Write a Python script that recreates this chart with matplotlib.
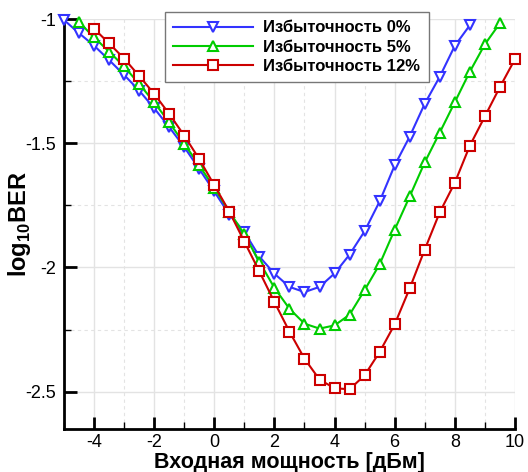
import matplotlib.pyplot as plt
from matplotlib.ticker import MultipleLocator

plt.rcParams['font.family'] = ['Liberation Sans', 'DejaVu Sans']
plt.rcParams['mathtext.fontset'] = 'custom'
plt.rcParams['mathtext.rm'] = 'Liberation Sans:bold'
plt.rcParams['mathtext.bf'] = 'Liberation Sans:bold'

# input power [dBm]
x_0 = [-5, -4.5, -4, -3.5, -3, -2.5, -2, -1.5, -1, -0.5, 0, 0.5, 1, 1.5, 2, 2.5,
       3, 3.5, 4, 4.5, 5, 5.5, 6, 6.5, 7, 7.5, 8, 8.5]
x_5 = [-4.5, -4, -3.5, -3, -2.5, -2, -1.5, -1, -0.5, 0, 0.5, 1, 1.5, 2, 2.5,
       3, 3.5, 4, 4.5, 5, 5.5, 6, 6.5, 7, 7.5, 8, 8.5, 9, 9.5]
x_12 = [-4, -3.5, -3, -2.5, -2, -1.5, -1, -0.5, 0, 0.5, 1, 1.5, 2, 2.5,
        3, 3.5, 4, 4.5, 5, 5.5, 6, 6.5, 7, 7.5, 8, 8.5, 9, 9.5, 10]

# log10 BER
ber_0 = [-1.004, -1.057, -1.107, -1.165, -1.225, -1.288, -1.359, -1.435, -1.515,
         -1.604, -1.694, -1.787, -1.857, -1.956, -2.025, -2.078, -2.099, -2.078,
         -2.024, -1.948, -1.854, -1.734, -1.589, -1.473, -1.341, -1.232, -1.108, -1.025]
ber_5 = [-1.012, -1.074, -1.131, -1.191, -1.261, -1.335, -1.416, -1.502, -1.589,
         -1.680, -1.775, -1.867, -1.977, -2.082, -2.166, -2.226, -2.246, -2.233,
         -2.190, -2.091, -1.987, -1.848, -1.714, -1.577, -1.457, -1.335, -1.212,
         -1.102, -1.017]
ber_12 = [-1.039, -1.098, -1.159, -1.229, -1.301, -1.382, -1.469, -1.564, -1.669,
          -1.775, -1.896, -2.016, -2.139, -2.258, -2.367, -2.451, -2.486, -2.490,
          -2.434, -2.340, -2.229, -2.084, -1.928, -1.778, -1.659, -1.510, -1.392,
          -1.274, -1.162]

labels = ["Избыточность 0%", "Избыточность 5%", "Избыточность 12%"]

fig = plt.figure(figsize=(5.28, 4.72), dpi=100)
ax = fig.add_axes([0.1212, 0.0911, 0.854, 0.8686])

style = dict(linewidth=1.5, markersize=7, markeredgewidth=1.5,
             markerfacecolor="white", clip_on=False, zorder=3)
ax.plot(x_0, ber_0, marker="v", color="#3333ff", label=labels[0], **style)
ax.plot(x_5, ber_5, marker="^", color="#00cc00", label=labels[1], **style)
ax.plot(x_12, ber_12, marker="s", color="#cc0000", label=labels[2], **style)

ax.set_xlim(-5, 10)
ax.set_ylim(-2.65, -1)
ax.xaxis.set_minor_locator(MultipleLocator(1))
ax.yaxis.set_minor_locator(MultipleLocator(0.25))
ax.set_yticks([-2.5, -2, -1.5, -1])
ax.set_yticklabels(["-2.5", "-2", "-1.5", "-1"])
ax.set_xticks([-4, -2, 0, 2, 4, 6, 8, 10])
ax.set_xticklabels(["-4", "-2", "0", "2", "4", "6", "8", "10"])

ax.grid(True, which="major", color="#e3e3e3", linewidth=1, linestyle="-")
ax.grid(True, which="minor", color="#e3e3e3", linewidth=0.8, linestyle=(0, (3, 3)))
ax.set_axisbelow(True)

ax.tick_params(which="major", direction="in", length=9, width=2, labelsize=13, pad=6)
ax.tick_params(axis="x", which="major", pad=3.5)
ax.tick_params(which="minor", direction="in", length=5, width=1)
ax.spines["top"].set_visible(False)
ax.spines["right"].set_visible(False)
ax.spines["left"].set_linewidth(2)
ax.spines["bottom"].set_linewidth(2)

ax.set_xlabel("Входная мощность [дБм]", fontsize=15.5, fontweight="bold")
ax.xaxis.set_label_coords(0.5, -0.0555)
ax.set_ylabel(r"log$_{10}$BER", fontsize=17, fontweight="bold")
ax.yaxis.set_label_coords(-0.068, 0.5)

leg = ax.legend(loc="upper left", bbox_to_anchor=(0.224, 1.017), borderaxespad=0,
                fancybox=False, edgecolor="#777777", framealpha=1, handlelength=4.8,
                prop={"weight": "bold", "size": 12}, borderpad=0.5,
                labelspacing=0.25, handletextpad=0.6)
leg.get_frame().set_linewidth(1)

fig.savefig("out.png", dpi=100)
